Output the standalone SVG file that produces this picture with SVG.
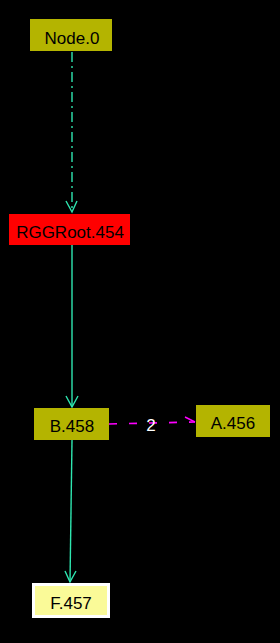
<svg xmlns="http://www.w3.org/2000/svg" width="280" height="643" viewBox="0 0 280 643">
<style>
text{font-family:"Liberation Sans",Arial,sans-serif;font-size:17px;text-anchor:middle;fill:#000}
.ol{fill:#b4b400}
.e{stroke:#2ee6b0;stroke-width:1.4;fill:none}
.ah{stroke:#2ee6b0;stroke-width:1.4;fill:none}
</style>
<rect width="280" height="643" fill="#000"/>
<g id="connectors">
<line class="e" x1="72" y1="52" x2="72" y2="212" stroke-dasharray="10,4,2,4"/>
<polyline class="ah" points="66,201 72,212 77,201"/>
<line class="e" x1="72" y1="245" x2="72" y2="407"/>
<polyline class="ah" points="66,396 72,407 78,396"/>
<line class="e" x1="72" y1="440" x2="70" y2="582"/>
<polyline class="ah" points="65,571 70,582 76,571"/>
<line x1="109" y1="424" x2="195" y2="422" stroke="#ff00ff" stroke-width="1.6" stroke-dasharray="8,12"/>
<polyline points="185,417 195,422" stroke="#ff00ff" stroke-width="1.4" fill="none"/>
<text x="151" y="431" style="fill:#fff">2</text>
</g>
<g id="node0"><rect class="ol" x="30" y="19" width="82" height="32"/><text x="72" y="44">Node.0</text></g>
<g id="rggroot"><rect x="9" y="214" width="121" height="31" fill="#ff0000"/><text x="70" y="238">RGGRoot.454</text></g>
<g id="b458"><rect class="ol" x="34" y="408" width="75" height="32"/><text x="72" y="432">B.458</text></g>
<g id="a456"><rect class="ol" x="196" y="405" width="74" height="32"/><text x="233" y="429">A.456</text></g>
<g id="f457"><rect x="32" y="583" width="78" height="35" fill="#fff"/><rect x="35" y="586" width="72" height="29" fill="#fafa98"/><text x="71" y="609">F.457</text></g>
</svg>
